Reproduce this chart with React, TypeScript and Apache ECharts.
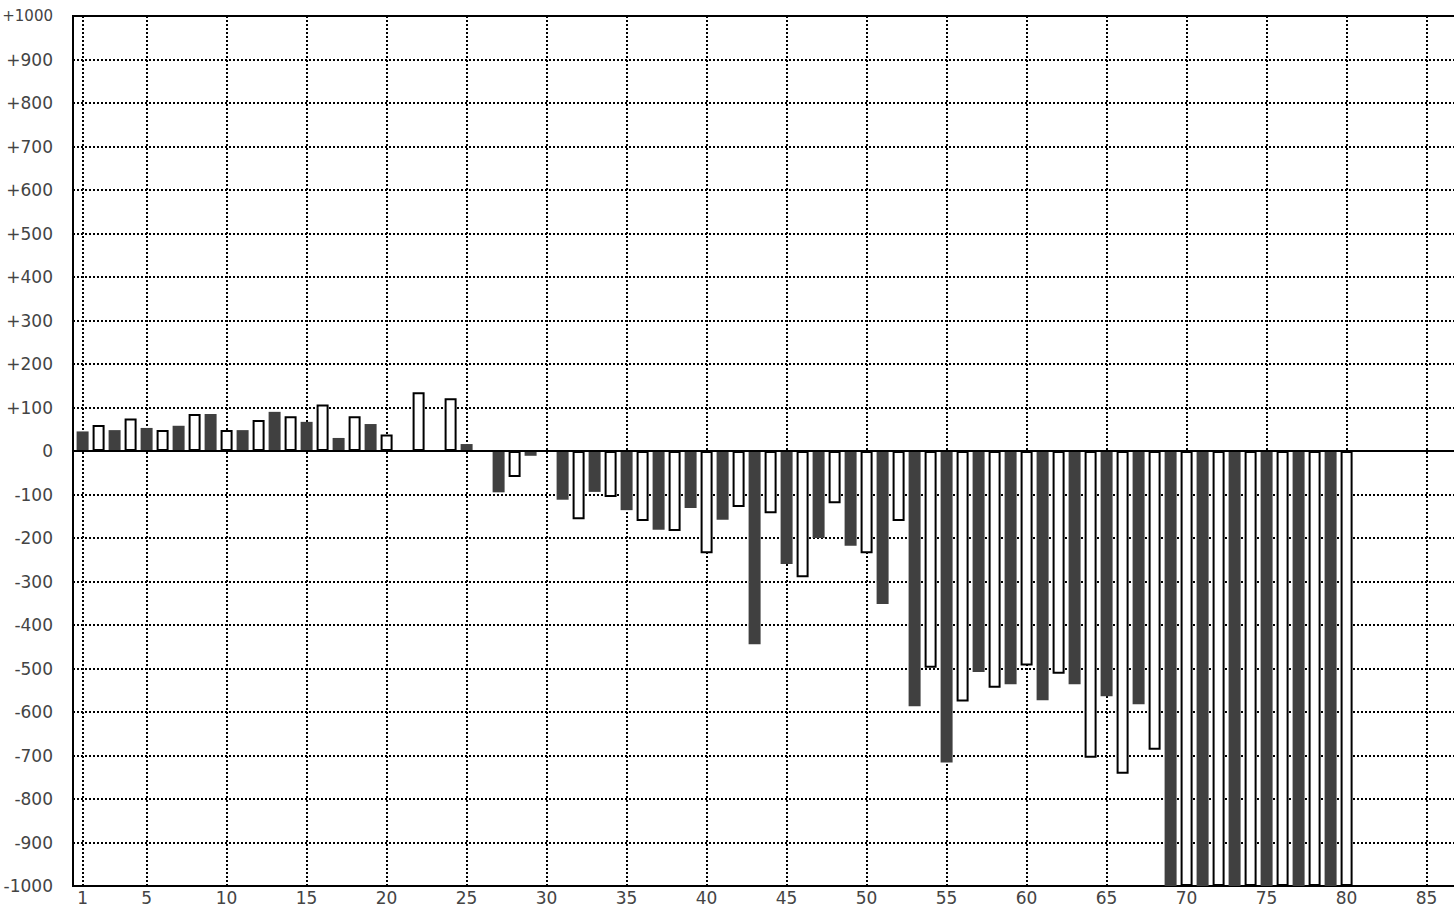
import React, { useEffect, useRef } from "react";
import * as echarts from "echarts";

// Bar index (x) for each bar; odd indices are dark bars, even indices are white bars
const categories = [
  1, 2, 3, 4, 5, 6, 7, 8, 9, 10, 11, 12, 13, 14, 15, 16, 17, 18, 19, 20,
  21, 22, 23, 24, 25, 26, 27, 28, 29, 30, 31, 32, 33, 34, 35, 36, 37, 38, 39, 40,
  41, 42, 43, 44, 45, 46, 47, 48, 49, 50, 51, 52, 53, 54, 55, 56, 57, 58, 59, 60,
  61, 62, 63, 64, 65, 66, 67, 68, 69, 70, 71, 72, 73, 74, 75, 76, 77, 78, 79, 80,
];

const barValues = [
  45, 60, 48, 75, 53, 48, 58, 85, 85, 48,
  48, 71, 90, 80, 67, 107, 30, 80, 62, 38,
  0, 135, 0, 121, 16, 0, -95, -60, -11, 0,
  -112, -157, -94, -106, -136, -161, -181, -184, -131, -235,
  -158, -129, -444, -143, -260, -290, -200, -120, -218, -235,
  -352, -161, -587, -498, -716, -576, -508, -544, -536, -493,
  -573, -512, -536, -705, -564, -742, -582, -687, -1000, -1000,
  -1000, -1000, -1000, -1000, -1000, -1000, -1000, -1000, -1000, -1000,
];

const xTickValues = [1, 5, 10, 15, 20, 25, 30, 35, 40, 45, 50, 55, 60, 65, 70, 75, 80, 85];
const yMin = -1000;
const yMax = 1000;
const yStep = 100;

const DARK = "#404040";
const FONT = "DejaVu Sans";

export default function App() {
  const ref = useRef<HTMLDivElement>(null);

  useEffect(() => {
    if (!ref.current) return;
    const chart = echarts.init(ref.current, undefined, { renderer: "svg" });

    const data = categories.map((x, i) => ({
      value: [x, barValues[i]],
      itemStyle:
        x % 2 === 1
          ? { color: DARK, borderWidth: 0 }
          : { color: "#ffffff", borderColor: "#000000", borderWidth: 2 },
    }));

    const dotted = { color: "#000000", width: 2, type: [2, 2] as number[] };
    const labelStyle = { color: "#444444", fontFamily: FONT, fontSize: 17 };

    chart.setOption({
      animation: false,
      backgroundColor: "#ffffff",
      grid: {
        left: 73,
        top: 16,
        width: 1392,
        height: 870,
        show: true,
        borderColor: "#000000",
        borderWidth: 2,
        backgroundColor: "transparent",
        containLabel: false,
        outerBoundsMode: "none",
      },
      xAxis: {
        type: "value",
        min: 0.4,
        max: 87.4,
        axisLine: { show: false, onZero: false },
        axisTick: { show: false, customValues: xTickValues },
        axisLabel: { ...labelStyle, margin: 3, customValues: xTickValues },
        splitLine: { show: true, lineStyle: dotted },
      },
      yAxis: {
        type: "value",
        min: yMin,
        max: yMax,
        interval: yStep,
        axisLine: { show: false },
        axisTick: { show: false },
        axisLabel: {
          ...labelStyle,
          margin: 20,
          formatter: (v: number) =>
            v >= yMax ? "{top|+" + v + "}" : v > 0 ? "+" + v : String(v),
          rich: {
            top: { color: "#444444", fontFamily: FONT, fontSize: 15 },
          },
        },
        splitLine: { show: true, lineStyle: dotted },
      },
      series: [
        {
          type: "bar",
          barWidth: 12,
          data,
          markLine: {
            silent: true,
            symbol: ["none", "none"],
            label: { show: false },
            lineStyle: { color: "#000000", width: 2, type: "solid" },
            data: [{ yAxis: 0 }],
          },
        },
      ],
    });

    return () => chart.dispose();
  }, []);

  return (
    <div
      ref={ref}
      style={{ position: "absolute", left: 0, top: 0, width: 1454, height: 908 }}
    />
  );
}
